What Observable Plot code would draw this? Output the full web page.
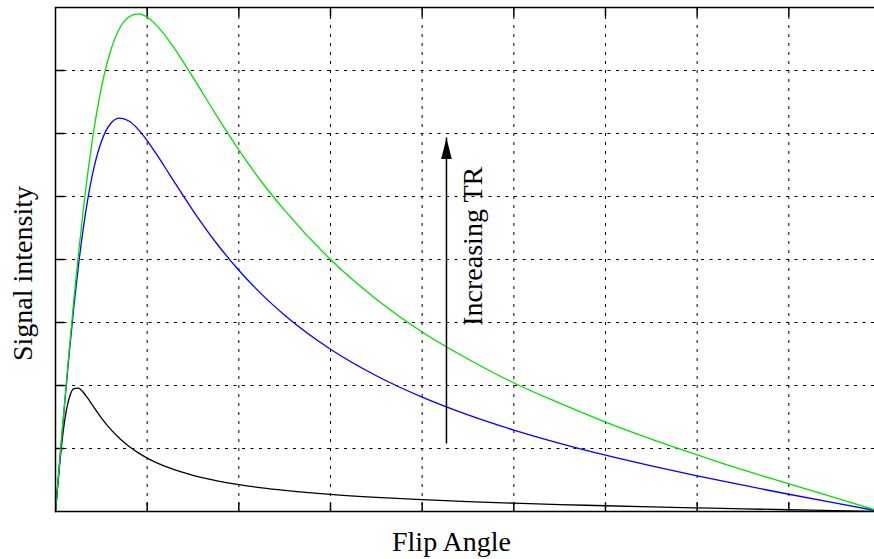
<!DOCTYPE html>
<html>
<head>
<meta charset="utf-8">
<script src="https://cdn.jsdelivr.net/npm/d3@7"></script>
<script src="https://cdn.jsdelivr.net/npm/@observablehq/plot@0.6"></script>
<style>
  html, body { margin: 0; padding: 0; background: #fff; overflow: hidden; }
</style>
</head>
<body>
<div id="chart"></div>
<script>
// Flip angle (degrees) at which each signal curve is sampled
const angles = [0, 0.5, 1, 2, 3, 4, 5, 6, 7, 8, 10, 12, 14, 16, 18, 20, 22, 25, 30, 35,
  40, 45, 50, 60, 70, 80, 90, 100, 110, 120, 130, 140, 150, 160, 170, 180];

// Signal intensity for three repetition times (longest TR first)
const signalLongTR = [0, 0.44, 0.877, 1.738, 2.568, 3.355, 4.084, 4.75, 5.35, 5.88,
  6.72, 7.31, 7.67, 7.85, 7.90, 7.85, 7.72, 7.45, 6.89, 6.30,
  5.74, 5.23, 4.78, 4.00, 3.37, 2.85, 2.42, 2.04, 1.72, 1.42,
  1.15, 0.90, 0.66, 0.44, 0.22, 0];
const signalMidTR = [0, 0.437, 0.870, 1.715, 2.513, 3.247, 3.897, 4.461, 4.940, 5.331,
  5.870, 6.155, 6.244, 6.199, 6.070, 5.887, 5.675, 5.336, 4.777, 4.270,
  3.829, 3.446, 3.116, 2.576, 2.155, 1.815, 1.533, 1.292, 1.082, 0.894,
  0.724, 0.565, 0.417, 0.274, 0.136, 0];
const signalShortTR = [0, 0.424, 0.820, 1.442, 1.802, 1.949, 1.958, 1.897, 1.802, 1.695,
  1.487, 1.307, 1.158, 1.035, 0.934, 0.848, 0.776, 0.687, 0.574, 0.491,
  0.427, 0.376, 0.335, 0.271, 0.224, 0.187, 0.157, 0.132, 0.110, 0.091,
  0.073, 0.057, 0.042, 0.028, 0.014, 0];

// Grid / tick positions
const xTicks = [0, 20, 40, 60, 80, 100, 120, 140, 160, 180];
const yTicks = [0, 1, 2, 3, 4, 5, 6, 7, 8];

// Annotation: arrow pointing towards longer TR
const arrowX = 85.3;
const arrowFrom = 1.07;
const arrowTo = 5.93;
const arrowLabel = "Increasing TR";
const arrowLabelX = 91.1;
const arrowLabelY = 4.21;

const xLabel = "Flip Angle";
const yLabel = "Signal intensity";

const series = [
  {values: signalShortTR, color: "#000000"},
  {values: signalMidTR, color: "#0000ff"},
  {values: signalLongTR, color: "#00e000"}
];
const rows = s => angles.map((a, i) => ({angle: a, signal: s.values[i]}));

// Small line-segment symbols for inward ticks, and a filled arrowhead
const tickLen = 9;
const tickUp = {draw(c) { c.moveTo(0, 0); c.lineTo(0, -tickLen); }};
const tickDown = {draw(c) { c.moveTo(0, 0); c.lineTo(0, tickLen); }};
const tickRight = {draw(c) { c.moveTo(0, 0); c.lineTo(tickLen, 0); }};
const arrowHead = {draw(c) { c.moveTo(0, 0); c.lineTo(5.3, 21); c.lineTo(-5.3, 21); c.closePath(); }};

const innerX = xTicks.slice(1, -1);
const innerY = yTicks.slice(1, -1);
const font = "'Liberation Serif', 'Times New Roman', Times, serif";

const chart = Plot.plot({
  width: 874,
  height: 559,
  marginLeft: 55,
  marginRight: -6,
  marginTop: 7,
  marginBottom: 48,
  style: {fontFamily: font, fontSize: "28px", background: "#fff", color: "#000"},
  x: {domain: [0, 180], axis: null},
  y: {domain: [0, 8], axis: null},
  marks: [
    // dotted grid
    Plot.ruleX(innerX, {stroke: "#000", strokeWidth: 1, strokeDasharray: "3,6"}),
    Plot.ruleY(innerY, {stroke: "#000", strokeWidth: 1, strokeDasharray: "3,5.5"}),
    // inward ticks on bottom, top and left
    Plot.dot(innerX, {x: d => d, y: 0, symbol: tickUp, fill: "none", stroke: "#000", strokeWidth: 1.5}),
    Plot.dot(innerX, {x: d => d, y: 8, symbol: tickDown, fill: "none", stroke: "#000", strokeWidth: 1.5}),
    Plot.dot(innerY, {x: 0, y: d => d, symbol: tickRight, fill: "none", stroke: "#000", strokeWidth: 1.5}),
    // signal curves
    ...series.map(s => Plot.line(rows(s), {
      x: "angle", y: "signal", stroke: s.color, strokeWidth: 1.3, curve: "monotone-x"
    })),
    // arrow and its label
    Plot.ruleX([arrowX], {y1: arrowFrom, y2: arrowTo, stroke: "#000", strokeWidth: 1.5}),
    Plot.dot([arrowX], {x: d => d, y: arrowTo, symbol: arrowHead, fill: "#000", stroke: "none"}),
    Plot.text([arrowLabel], {x: arrowLabelX, y: arrowLabelY, text: d => d, rotate: -90,
      fontSize: 28, fill: "#000", lineAnchor: "middle", textAnchor: "middle"}),
    // axis titles
    Plot.text([xLabel], {frameAnchor: "bottom", text: d => d, dx: -16.5, dy: 30.5,
      fontSize: 28, fill: "#000", lineAnchor: "middle"}),
    Plot.text([yLabel], {frameAnchor: "left", text: d => d, rotate: -90, dx: -32.5, dy: 14,
      fontSize: 28, fill: "#000", lineAnchor: "middle", textAnchor: "middle"}),
    Plot.frame({stroke: "#000", strokeWidth: 1.5})
  ]
});

document.getElementById("chart").append(chart);
</script>
</body>
</html>
